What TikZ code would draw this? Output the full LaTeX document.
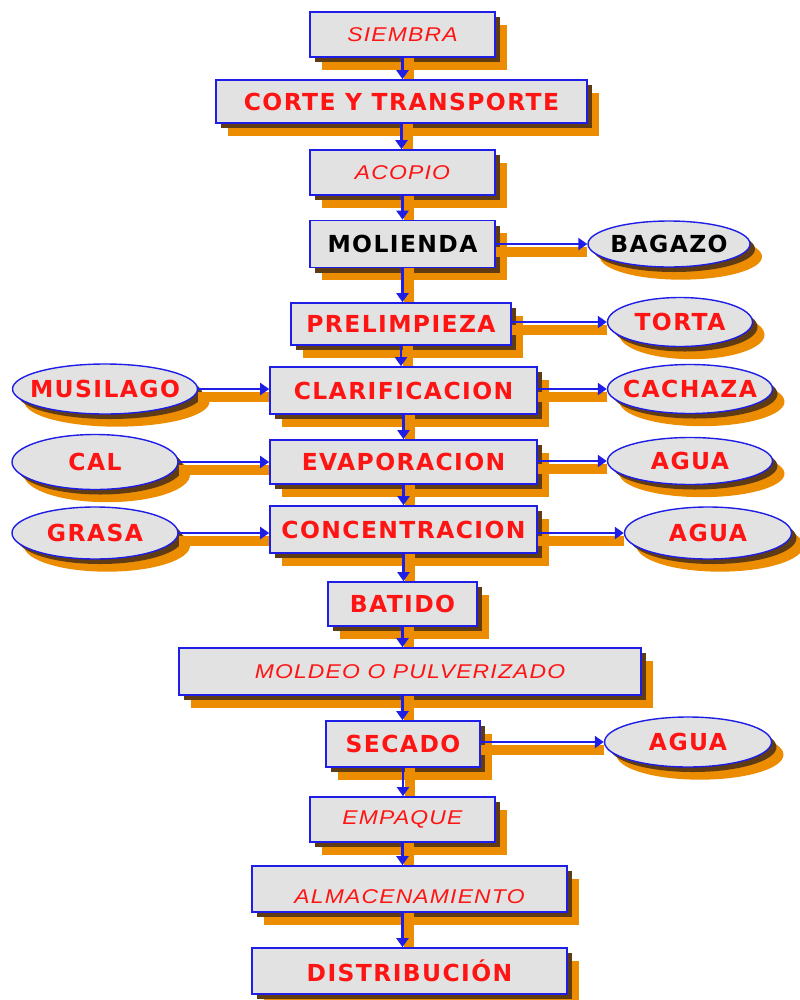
\documentclass[tikz,border=0pt]{standalone}
\usepackage{fontspec}
\usepackage{tikz}
\usetikzlibrary{shapes.geometric,arrows.meta,positioning,shadows}
\newfontfamily\stepbold{DejaVu Sans}[BoldFont={DejaVu Sans Bold}, BoldFeatures={LetterSpace=6}]
\newfontfamily\stepital{Liberation Sans}[LetterSpace=6, FakeStretch=1.15]
\definecolor{boxgrey}{RGB}{226,226,226}
\definecolor{boxblue}{RGB}{30,30,230}
\definecolor{txtred}{RGB}{255,20,20}
\definecolor{shadorange}{RGB}{236,140,0}
\definecolor{shaddark}{RGB}{95,60,20}

\begin{document}
\begin{tikzpicture}[x=0.03cm, y=-0.03cm,
    proc/.style={rectangle, draw=boxblue, line width=1.4pt, fill=boxgrey,
        inner sep=0pt, text=txtred,
        drop shadow={shadow xshift=0.36cm, shadow yshift=-0.38cm, fill=shadorange, opacity=1},
        drop shadow={shadow xshift=0.15cm, shadow yshift=-0.15cm, fill=shaddark, opacity=1}},
    boldtxt/.style={font=\stepbold\bfseries\fontsize{20}{23}\selectfont},
    italtxt/.style={font=\stepital\itshape\fontsize{17}{20}\selectfont},
    resid/.style={ellipse, draw=boxblue, line width=1.2pt, fill=boxgrey,
        inner xsep=-1.2cm, inner ysep=-0.3cm, text=txtred,
        font=\stepbold\bfseries\fontsize{20}{23}\selectfont,
        drop shadow={shadow xshift=0.36cm, shadow yshift=-0.38cm, fill=shadorange, opacity=1},
        drop shadow={shadow xshift=0.15cm, shadow yshift=-0.15cm, fill=shaddark, opacity=1}},
    arr/.style={-{Triangle[length=0.27cm, width=0.36cm]}, line width=1.8pt, boxblue},
    varr/.style={arr, preaction={draw=shadorange, line width=0.3cm, -,
        transform canvas={xshift=0.2cm}}},
    harr/.style={arr, preaction={draw=shadorange, line width=0.3cm, -,
        transform canvas={yshift=-0.25cm}}}
]
    \useasboundingbox (0,0) rectangle (799,1000);

    % main process chain
    \node[proc, italtxt, minimum width=5.55cm, minimum height=1.35cm] (siembra) at (402.5,34.5) {SIEMBRA};
    \node[proc, boldtxt, minimum width=11.13cm, minimum height=1.29cm] (corte) at (401.5,101.5) {CORTE Y TRANSPORTE};
    \node[proc, italtxt, minimum width=5.55cm, minimum height=1.35cm] (acopio) at (402.5,172.5) {ACOPIO};
    \node[proc, boldtxt, text=black, minimum width=5.55cm, minimum height=1.41cm] (molienda) at (402.5,244) {MOLIENDA};
    \node[proc, boldtxt, minimum width=6.6cm, minimum height=1.26cm] (prelimp) at (401,324) {PRELIMPIEZA};
    \node[proc, boldtxt, minimum width=8.01cm, minimum height=1.41cm] (clarif) at (403.5,390.5) {CLARIFICACION};
    \node[proc, boldtxt, minimum width=8.01cm, minimum height=1.32cm] (evap) at (403.5,462) {EVAPORACION};
    \node[proc, boldtxt, minimum width=8.01cm, minimum height=1.41cm] (concen) at (403.5,529.5) {CONCENTRACION};
    \node[proc, boldtxt, minimum width=4.47cm, minimum height=1.32cm] (batido) at (402.5,604) {BATIDO};
    \node[proc, italtxt, minimum width=13.86cm, minimum height=1.41cm] (moldeo) at (410,671.5) {MOLDEO O PULVERIZADO};
    \node[proc, boldtxt, minimum width=4.62cm, minimum height=1.38cm] (secado) at (403,744) {SECADO};
    \node[proc, italtxt, minimum width=5.55cm, minimum height=1.35cm] (empaque) at (402.5,819.5) {EMPAQUE};
    \node[proc, italtxt, minimum width=9.45cm, minimum height=1.38cm] (almacen) at (409.5,889) {\raisebox{-0.42cm}[0pt][0pt]{ALMACENAMIENTO}};
    \node[proc, boldtxt, minimum width=9.45cm, minimum height=1.38cm] (distrib) at (409.5,971) {DISTRIBUCIÓN};

    % inputs and residues
    \node[resid, text=black, minimum width=4.86cm, minimum height=1.38cm] (bagazo) at (669,244) {BAGAZO};
    \node[resid, minimum width=4.35cm, minimum height=1.47cm] (torta) at (680,322) {TORTA};
    \node[resid, minimum width=5.55cm, minimum height=1.5cm] (musilago) at (105,389) {MUSILAGO};
    \node[resid, minimum width=4.95cm, minimum height=1.47cm] (cachaza) at (690,389) {CACHAZA};
    \node[resid, minimum width=4.98cm, minimum height=1.65cm] (cal) at (95,462) {CAL};
    \node[resid, minimum width=4.95cm, minimum height=1.41cm] (aguaevap) at (690,461) {AGUA};
    \node[resid, minimum width=4.98cm, minimum height=1.56cm] (grasa) at (95,533) {GRASA};
    \node[resid, minimum width=5.01cm, minimum height=1.56cm] (aguaconc) at (708,533) {AGUA};
    \node[resid, minimum width=5.01cm, minimum height=1.5cm] (aguasec) at (688,742) {AGUA};

    % vertical flow
    \draw[varr] (siembra.south) -- (siembra.south |- corte.north);
    \draw[varr] (corte.south) -- (corte.south |- acopio.north);
    \draw[varr] (acopio.south) -- (acopio.south |- molienda.north);
    \draw[varr] (molienda.south) -- (molienda.south |- prelimp.north);
    \draw[varr] (prelimp.south) -- (prelimp.south |- clarif.north);
    \draw[varr] (clarif.south) -- (clarif.south |- evap.north);
    \draw[varr] (evap.south) -- (evap.south |- concen.north);
    \draw[varr] (concen.south) -- (concen.south |- batido.north);
    \draw[varr] (batido.south) -- (batido.south |- moldeo.north);
    \draw[varr] (batido.south |- moldeo.south) -- (batido.south |- secado.north);
    \draw[varr] (secado.south) -- (secado.south |- empaque.north);
    \draw[varr] (empaque.south) -- (empaque.south |- almacen.north);
    \draw[varr] (empaque.south |- almacen.south) -- (empaque.south |- distrib.north);

    % side streams
    \draw[harr] (molienda.east) -- (molienda.east -| bagazo.west);
    \draw[harr] (prelimp.east |- torta.west) -- (torta.west);
    \draw[harr] (musilago.east) -- (musilago.east -| clarif.west);
    \draw[harr] (clarif.east |- cachaza.west) -- (cachaza.west);
    \draw[harr] (cal.east) -- (cal.east -| evap.west);
    \draw[harr] (evap.east |- aguaevap.west) -- (aguaevap.west);
    \draw[harr] (grasa.east) -- (grasa.east -| concen.west);
    \draw[harr] (concen.east |- aguaconc.west) -- (aguaconc.west);
    \draw[harr] (secado.east |- aguasec.west) -- (aguasec.west);
\end{tikzpicture}
\end{document}
